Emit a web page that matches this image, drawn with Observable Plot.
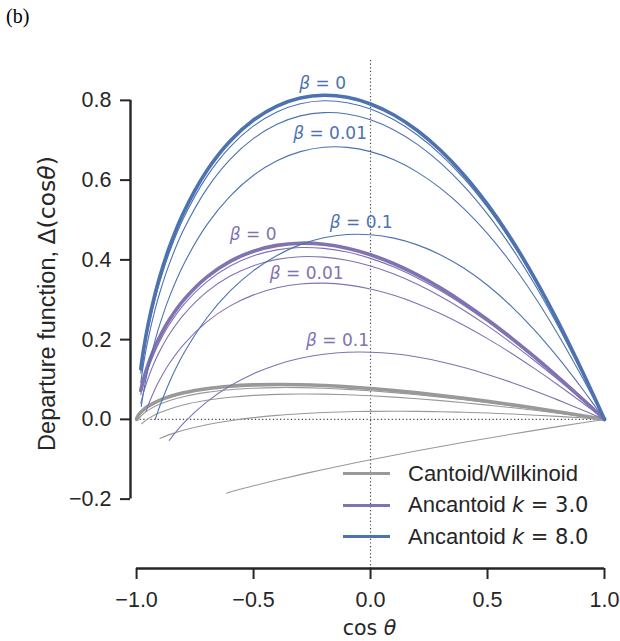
<!DOCTYPE html>
<html><head><meta charset="utf-8">
<script src="https://cdn.jsdelivr.net/npm/d3@7"></script>
<script src="https://cdn.jsdelivr.net/npm/@observablehq/plot@0.6"></script>
<style>
body{margin:0;background:#fff;}
#wrap{position:relative;width:620px;height:641px;}
#tag{position:absolute;left:6px;top:6px;font:20px/1 "Liberation Serif",serif;color:#000;}
#legend{position:absolute;left:343px;top:458px;font:22px "Liberation Sans",Arial,sans-serif;color:#262626;}
.row{display:flex;align-items:center;height:31.5px;white-space:nowrap;}
.sw{width:47px;height:0;border-top:3.5px solid;margin-right:18px;}
.m{font-family:"DejaVu Sans",sans-serif;font-size:21px;}
</style></head><body>
<div id="wrap"><div id="tag">(b)</div><div id="legend"></div></div>
<script>
// ---- data (x = cos θ, y = Δ(cos θ)) ----
const betas = [0, 0.0001, 0.001, 0.01, 0.1];
const xTicks = [-1, -0.5, 0, 0.5, 1];
const yTicks = [-0.2, 0, 0.2, 0.4, 0.6, 0.8];
const xDomain = [-1.026, 1];
const yDomain = [-0.374, 0.9];
const legendNames = ["Cantoid/Wilkinoid", "Ancantoid <span class='m'><i>k</i> = 3.0</span>", "Ancantoid <span class='m'><i>k</i> = 8.0</span>"];
const familyColors = ["#999999", "#8172b2", "#4c72b0"];

// Cantoid / Wilkinoid
const cant_b0 = [[1,0],[0.95,0.0047],[0.9,0.0099],[0.8,0.0193],[0.7,0.0283],[0.6,0.0370],[0.5,0.0452],[0.4,0.0528],[0.3,0.0599],[0.2,0.0665],[0.1,0.0723],[0,0.0774],[-0.1,0.0816],[-0.2,0.0848],[-0.3,0.0868],[-0.4,0.0875],[-0.5,0.0864],[-0.6,0.0832],[-0.7,0.0770],[-0.8,0.0665],[-0.9,0.0483],[-0.95,0.0332],[-0.97,0.0246],[-0.99,0.0123],[-0.998,0.0042],[-1,0]];
const cant_b4 = [[1,0],[0.95,0.0044],[0.9,0.0093],[0.8,0.0181],[0.7,0.0266],[0.6,0.0347],[0.5,0.0422],[0.4,0.0493],[0.3,0.0559],[0.2,0.0618],[0.1,0.0671],[0,0.0716],[-0.1,0.0753],[-0.2,0.0780],[-0.3,0.0795],[-0.4,0.0797],[-0.5,0.0781],[-0.6,0.0744],[-0.7,0.0678],[-0.8,0.0569],[-0.9,0.0384],[-0.95,0.0232],[-0.97,0.0146],[-0.99,0.0024],[-0.995,-0.0025]];
const cant_b3 = [[1,0],[0.95,0.0038],[0.9,0.0080],[0.8,0.0156],[0.7,0.0229],[0.6,0.0297],[0.5,0.0358],[0.4,0.0417],[0.3,0.0470],[0.2,0.0517],[0.1,0.0558],[0,0.0592],[-0.1,0.0617],[-0.2,0.0632],[-0.3,0.0636],[-0.4,0.0627],[-0.5,0.0601],[-0.6,0.0554],[-0.7,0.0479],[-0.8,0.0362],[-0.9,0.0171],[-0.95,0.0018],[-0.97,-0.0068],[-0.978,-0.011]];
const cant_b2 = [[1,0],[0.95,0.0017],[0.9,0.0039],[0.8,0.0074],[0.7,0.0105],[0.6,0.0134],[0.5,0.0158],[0.4,0.0177],[0.3,0.0192],[0.2,0.0201],[0.1,0.0205],[0,0.0201],[-0.1,0.0191],[-0.2,0.0171],[-0.3,0.0141],[-0.4,0.0100],[-0.5,0.0043],[-0.6,-0.0033],[-0.7,-0.0134],[-0.8,-0.0273],[-0.85,-0.0364],[-0.9,-0.0478]];
const cant_b1 = [[1,0],[0.95,-0.0047],[0.9,-0.0091],[0.8,-0.0183],[0.6,-0.0374],[0.4,-0.0575],[0.2,-0.0787],[0,-0.1013],[-0.2,-0.1256],[-0.3,-0.1385],[-0.4,-0.1521],[-0.5,-0.1667],[-0.55,-0.1740],[-0.6,-0.1820],[-0.615,-0.1854]];

// Ancantoid k = 3
const anc3_b0 = [[1,0],[0.95,0.0273],[0.9,0.0542],[0.8,0.1067],[0.7,0.1571],[0.6,0.2050],[0.5,0.2500],[0.4,0.2915],[0.3,0.3291],[0.2,0.3623],[0.1,0.3903],[0,0.4129],[-0.1,0.4293],[-0.2,0.4392],[-0.3,0.4418],[-0.4,0.4364],[-0.5,0.4218],[-0.6,0.3963],[-0.7,0.3570],[-0.8,0.2985],[-0.86,0.2497],[-0.9,0.2081],[-0.92,0.1834],[-0.95,0.1388],[-0.97,0.1010],[-0.982,0.0726]];
const anc3_b4 = [[1,0],[0.95,0.0268],[0.9,0.0532],[0.8,0.1047],[0.7,0.1541],[0.6,0.2010],[0.5,0.2451],[0.4,0.2857],[0.3,0.3224],[0.2,0.3547],[0.1,0.3820],[0,0.4038],[-0.1,0.4196],[-0.2,0.4289],[-0.3,0.4310],[-0.4,0.4251],[-0.5,0.4102],[-0.6,0.3844],[-0.7,0.3450],[-0.8,0.2867],[-0.86,0.2380],[-0.9,0.1967],[-0.92,0.1721],[-0.95,0.1278],[-0.97,0.0903],[-0.982,0.0620]];
const anc3_b3 = [[1,0],[0.95,0.0257],[0.9,0.0510],[0.8,0.1003],[0.7,0.1476],[0.6,0.1924],[0.5,0.2345],[0.4,0.2732],[0.3,0.3080],[0.2,0.3386],[0.1,0.3643],[0,0.3846],[-0.1,0.3990],[-0.2,0.4070],[-0.3,0.4080],[-0.4,0.4012],[-0.5,0.3855],[-0.6,0.3593],[-0.7,0.3197],[-0.8,0.2615],[-0.86,0.2133],[-0.9,0.1724],[-0.92,0.1481],[-0.95,0.1045],[-0.97,0.0676],[-0.982,0.0399]];
const anc3_b2 = [[1,0],[0.95,0.0223],[0.9,0.0443],[0.8,0.0870],[0.7,0.1278],[0.6,0.1665],[0.5,0.2025],[0.4,0.2355],[0.3,0.2649],[0.2,0.2902],[0.1,0.3111],[0,0.3269],[-0.1,0.3372],[-0.2,0.3416],[-0.3,0.3394],[-0.4,0.3300],[-0.5,0.3122],[-0.6,0.2846],[-0.7,0.2445],[-0.8,0.1871],[-0.86,0.1402],[-0.9,0.1008],[-0.92,0.0776],[-0.95,0.0359],[-0.96,0.0194]];
const anc3_b1 = [[1,0],[0.95,0.0125],[0.9,0.0249],[0.8,0.0489],[0.7,0.0718],[0.6,0.0932],[0.5,0.1127],[0.4,0.1301],[0.3,0.1447],[0.2,0.1563],[0.1,0.1644],[0,0.1685],[-0.1,0.1683],[-0.2,0.1633],[-0.3,0.1531],[-0.4,0.1372],[-0.5,0.1147],[-0.6,0.0843],[-0.7,0.0439],[-0.8,-0.0102],[-0.86,-0.0525]];

// Ancantoid k = 8
const anc8_b0 = [[1,0],[0.95,0.0643],[0.9,0.1271],[0.8,0.2464],[0.7,0.3557],[0.6,0.4535],[0.5,0.5391],[0.4,0.6126],[0.3,0.6742],[0.2,0.7243],[0.1,0.7632],[0,0.7910],[-0.1,0.8077],[-0.2,0.8129],[-0.3,0.8059],[-0.4,0.7858],[-0.5,0.7508],[-0.6,0.6982],[-0.7,0.6234],[-0.8,0.5177],[-0.86,0.4318],[-0.9,0.3597],[-0.92,0.3170],[-0.95,0.2404],[-0.97,0.1755],[-0.982,0.1266]];
const anc8_b4 = [[1,0],[0.95,0.0635],[0.9,0.1253],[0.8,0.2430],[0.7,0.3507],[0.6,0.4470],[0.5,0.5313],[0.4,0.6036],[0.3,0.6641],[0.2,0.7132],[0.1,0.7512],[0,0.7782],[-0.1,0.7942],[-0.2,0.7989],[-0.3,0.7915],[-0.4,0.7711],[-0.5,0.7360],[-0.6,0.6834],[-0.7,0.6088],[-0.8,0.5036],[-0.86,0.4183],[-0.9,0.3467],[-0.92,0.3044],[-0.95,0.2284],[-0.97,0.1640],[-0.982,0.1156]];
const anc8_b3 = [[1,0],[0.95,0.0616],[0.9,0.1216],[0.8,0.2357],[0.7,0.3401],[0.6,0.4333],[0.5,0.5148],[0.4,0.5845],[0.3,0.6426],[0.2,0.6896],[0.1,0.7258],[0,0.7512],[-0.1,0.7658],[-0.2,0.7693],[-0.3,0.7611],[-0.4,0.7400],[-0.5,0.7046],[-0.6,0.6521],[-0.7,0.5781],[-0.8,0.4740],[-0.86,0.3899],[-0.9,0.3194],[-0.92,0.2778],[-0.95,0.2031],[-0.97,0.1399],[-0.982,0.0923]];
const anc8_b2 = [[1,0],[0.95,0.0560],[0.9,0.1105],[0.8,0.2141],[0.7,0.3086],[0.6,0.3927],[0.5,0.4658],[0.4,0.5279],[0.3,0.5792],[0.2,0.6201],[0.1,0.6508],[0,0.6715],[-0.1,0.6821],[-0.2,0.6823],[-0.3,0.6714],[-0.4,0.6486],[-0.5,0.6123],[-0.6,0.5601],[-0.7,0.4877],[-0.8,0.3872],[-0.86,0.3065],[-0.9,0.2393],[-0.92,0.1998],[-0.95,0.1289],[-0.97,0.0692],[-0.98,0.0325]];
const anc8_b1 = [[1,0],[0.95,0.0407],[0.9,0.0805],[0.8,0.1560],[0.7,0.2246],[0.6,0.2848],[0.5,0.3363],[0.4,0.3788],[0.3,0.4124],[0.2,0.4376],[0.1,0.4545],[0,0.4631],[-0.1,0.4635],[-0.2,0.4553],[-0.3,0.4382],[-0.4,0.4112],[-0.5,0.3731],[-0.6,0.3220],[-0.7,0.2543],[-0.8,0.1637],[-0.86,0.0927],[-0.9,0.0344],[-0.92,0.0004]];

// β annotations
const labelText = ["β = 0", "β = 0.01", "β = 0.1", "β = 0", "β = 0.01", "β = 0.1"];
const labelX = [-0.205, -0.173, -0.04, -0.502, -0.273, -0.141];
const labelY = [0.843, 0.718, 0.494, 0.464, 0.366, 0.198];
const labelFamily = [2, 2, 2, 1, 1, 1];

// ---- build ----
const families = [
  {key: 0, curves: [cant_b0, cant_b4, cant_b3, cant_b2, cant_b1]},
  {key: 1, curves: [anc3_b0, anc3_b4, anc3_b3, anc3_b2, anc3_b1]},
  {key: 2, curves: [anc8_b0, anc8_b4, anc8_b3, anc8_b2, anc8_b1]}
];
const rows = families.flatMap(f => f.curves.flatMap((c, i) =>
  c.map(([x, y]) => ({fam: f.key, beta: betas[i], x, y})).sort((a, b) => a.x - b.x)));
const labels = labelText.map((t, i) => ({t, x: labelX[i], y: labelY[i], fam: labelFamily[i]}));
const fmt = d3.format(".1f");
const ink = "#262626";

const lineMarks = families.flatMap(f => [
  Plot.line(rows.filter(d => d.fam === f.key && d.beta > 0),
    {x: "x", y: "y", z: "beta", stroke: familyColors[f.key], strokeWidth: 1.1, curve: "catmull-rom"}),
  Plot.line(rows.filter(d => d.fam === f.key && d.beta === 0),
    {x: "x", y: "y", stroke: familyColors[f.key], strokeWidth: 3.6, curve: "catmull-rom"})
]);

const chart = Plot.plot({
  width: 620, height: 641,
  marginLeft: 130, marginRight: 16, marginTop: 60, marginBottom: 73,
  x: {domain: xDomain},
  y: {domain: yDomain},
  style: {fontFamily: "'Liberation Sans', Arial, sans-serif", fontSize: "21.5px", color: ink, background: "white", overflow: "visible"},
  marks: [
    Plot.ruleX([0], {stroke: "#444", strokeWidth: 1.2, strokeDasharray: "1.2,2.4"}),
    Plot.ruleY([0], {x1: xTicks[0], x2: xTicks[xTicks.length - 1], stroke: "#444", strokeWidth: 1.2, strokeDasharray: "1.2,2.4"}),
    ...lineMarks,
    Plot.text(labels, {x: "x", y: "y", text: "t", fill: d => familyColors[d.fam], fontFamily: "'DejaVu Sans', sans-serif", fontSize: 17, textAnchor: "middle", lineAnchor: "middle"}),
    Plot.axisX(xTicks, {tickSize: 11, tickPadding: 12, tickFormat: fmt, stroke: ink, strokeWidth: 2, fill: ink, label: null}),
    Plot.axisY(yTicks, {tickSize: 10, tickPadding: 9, tickFormat: fmt, stroke: ink, strokeWidth: 2, fill: ink, label: null}),
    Plot.ruleX([xDomain[0]], {y1: yTicks[0], y2: yTicks[yTicks.length - 1], stroke: ink, strokeWidth: 2.4}),
    Plot.ruleY([yDomain[0]], {x1: xTicks[0], x2: xTicks[xTicks.length - 1], stroke: ink, strokeWidth: 2.4}),
    Plot.text(["cos θ"], {text: d => d, frameAnchor: "bottom", dx: 2, dy: 60, lineAnchor: "middle", fill: ink, fontFamily: "'DejaVu Sans', sans-serif", fontSize: 20.5}),
    Plot.text(["Departure function, Δ(cosθ)"], {text: d => d, frameAnchor: "left", rotate: -90, dx: -83, dy: -11, textAnchor: "middle", lineAnchor: "middle", fill: ink, fontSize: 23.5})
  ]
});

d3.select(chart).selectAll("text").each(function () {
  const t = this.textContent;
  if (this.children.length !== 0) return;
  if (t.startsWith("Departure")) {
    this.innerHTML = 'Departure function, <tspan font-family="DejaVu Sans">Δ(cos<tspan font-style="italic">θ</tspan>)</tspan>';
  } else if (/[βθ]/.test(t)) {
    this.innerHTML = t.replace(/([βθ])/g, '<tspan font-style="italic">$1</tspan>');
  }
});

const wrap = document.getElementById("wrap");
wrap.insertBefore(chart, wrap.firstChild);

document.getElementById("legend").innerHTML = legendNames.map((n, i) =>
  `<div class="row"><span class="sw" style="border-color:${familyColors[i]}"></span><span>${n}</span></div>`).join("");
</script></body></html>
